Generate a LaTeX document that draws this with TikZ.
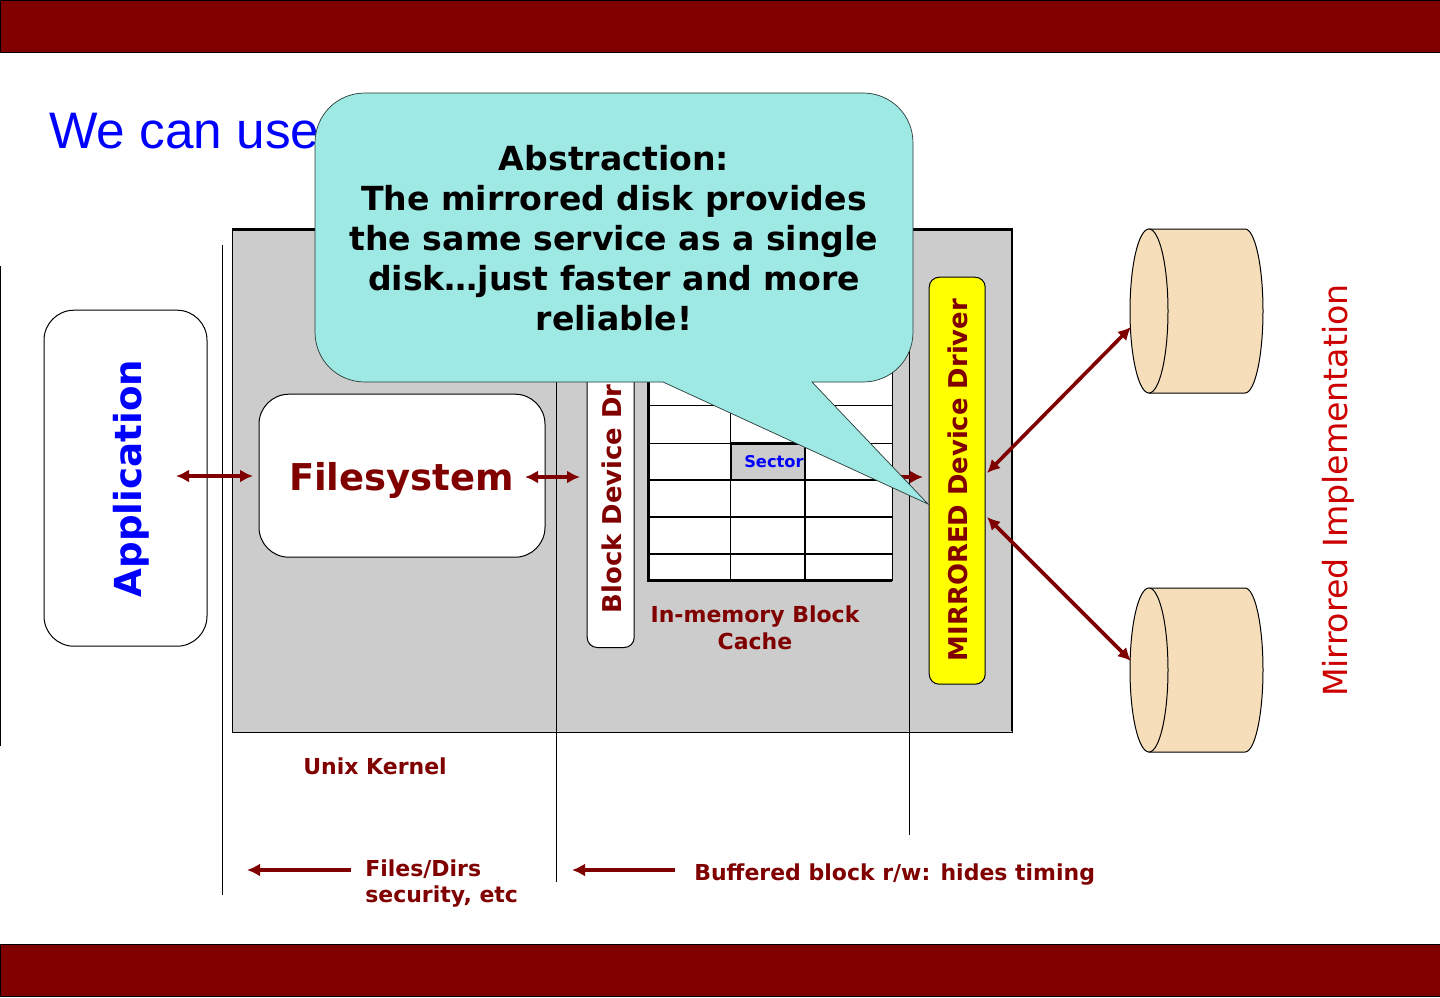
\documentclass[tikz,border=0pt]{standalone}
\usepackage{fontspec}
\setmainfont{DejaVu Sans}
\newfontfamily\titlefont{Liberation Sans}
\usetikzlibrary{arrows.meta}
\definecolor{brickred}{HTML}{800000}
\definecolor{brightred}{HTML}{CC0000}
\definecolor{panelgray}{HTML}{CCCCCC}
\definecolor{calloutfill}{HTML}{9FE9E4}
\definecolor{diskfill}{HTML}{F7DEBB}
\definecolor{driveryellow}{HTML}{FFFF00}
\definecolor{puretitle}{HTML}{0000FF}
\def\pxu{0.75pt}
\tikzset{
  bar/.style={draw=black,fill=brickred,line width=1*\pxu,inner sep=0pt,minimum width=1440*\pxu,minimum height=52*\pxu},
  roundbox/.style={draw=black,fill=white,line width=1*\pxu,inner sep=0pt,rounded corners=30*\pxu},
  link/.style={draw=brickred,line width=3.6*\pxu,{Latex[length=13*\pxu,width=13*\pxu]}-{Latex[length=13*\pxu,width=13*\pxu]}},
  onearrow/.style={draw=brickred,line width=3.6*\pxu,-{Latex[length=13*\pxu,width=13*\pxu]}},
  rule/.style={draw=black,line width=1*\pxu},
  gridline/.style={draw=black,line width=1.8*\pxu},
  label/.style={text=brickred,font=\bfseries\fontsize{16.5}{19.7}\selectfont,inner sep=0pt},
}
\begin{document}
\begin{tikzpicture}[x=0.75pt,y=-0.75pt]
\useasboundingbox (0,0) rectangle (1440,997);
\fill[white] (0,0) rectangle (1440,997);
% bars
\node[bar,anchor=north west] (topbar) at (0,0) {};
\node[bar,anchor=north west] (bottombar) at (0,944) {};
% title
\node[anchor=base west,inner sep=0pt,text=puretitle,font=\titlefont\fontsize{38.5}{44}\selectfont] (title) at (49,148) {We can use};
% kernel panel
\node[draw=black,fill=panelgray,line width=1*\pxu,anchor=north west,inner sep=0pt,minimum width=780*\pxu,minimum height=502*\pxu] (kernel) at (232,229.5) {};
\draw[black,line width=2.4*\pxu] (232,229.5) -- (1012,229.5) -- (1012,731);
% vertical rules
\coordinate (r1a) at (222,245); \coordinate (r1b) at (222,895);
\coordinate (r2a) at (556,300); \coordinate (r2b) at (556,882);
\coordinate (r3a) at (909,300); \coordinate (r3b) at (909,835);
\coordinate (r0a) at (0.5,266); \coordinate (r0b) at (0.5,746);
\draw[rule] (r0a) -- (r0b);
\draw[rule] (r1a) -- (r1b);
\draw[rule] (r2a) -- (r2b);
\draw[rule] (r3a) -- (r3b);
% application
\node[roundbox,anchor=north west,minimum width=163*\pxu,minimum height=336*\pxu] (app) at (43.5,309.7) {};
\node[rotate=90,text=puretitle,inner sep=0pt,font=\bfseries\fontsize{27.9}{32}\selectfont] (apptext) at (131,478.5) {Application};
% filesystem
\node[roundbox,anchor=north west,minimum width=286*\pxu,minimum height=163*\pxu] (fs) at (258.5,393.7) {};
\node[text=brickred,inner sep=0pt,font=\bfseries\fontsize{27.7}{32}\selectfont] (fstext) at (401.5,480.5) {Filesystem};
% block device driver
\node[roundbox,rounded corners=10*\pxu,anchor=south west,minimum width=47*\pxu,minimum height=348*\pxu] (bdd) at (586.7,648) {};
\node[rotate=90,text=brickred,inner sep=0pt,anchor=west,font=\bfseries\fontsize{19.4}{23}\selectfont] (bddtext) at (611.5,613.5) {Block Device Driver};
% block cache grid
\fill[white] (648,330) rectangle (892,581);
\fill[panelgray] (731,443) rectangle (805,480);
\foreach \yy in {405,443}{\draw[rule] (648,\yy) -- (892,\yy);}
\foreach \yy in {480,517,554}{\draw[gridline] (648,\yy) -- (892,\yy);}
\draw[rule] (730,330) -- (730,581);
\draw[gridline] (805,330) -- (805,581);
\draw[line width=2.4*\pxu,black] (731,480) -- (731,443.5) -- (805,443.5) -- (805,480) -- cycle;
\draw[draw=black,line width=3*\pxu] (648.5,330) -- (648.5,580.5) -- (892,580.5);
\draw[rule] (892,330) -- (892,581);
\node[text=puretitle,inner sep=0pt,anchor=base west,font=\bfseries\fontsize{12.2}{14}\selectfont] (sector) at (744,467) {Sector};
% arrows inside
\coordinate (a1) at (176,476); \coordinate (a2) at (253,476);
\coordinate (a3) at (525,477); \coordinate (a4) at (580,477);
\coordinate (a5) at (885,477); \coordinate (a6) at (923,477);
\draw[link] (a1) -- (a2);
\draw[link] (a3) -- (a4);
\draw[onearrow] (a5) -- (a6);
% mirrored driver
\node[draw=black,fill=driveryellow,line width=1*\pxu,rounded corners=10*\pxu,anchor=north west,inner sep=0pt,minimum width=56*\pxu,minimum height=407*\pxu] (mirror) at (928.7,276.7) {};
\node[rotate=90,text=brickred,inner sep=0pt,font=\bfseries\fontsize{19.4}{23}\selectfont] (mirrortext) at (958,480) {MIRRORED Device Driver};
% disks
\foreach \nm/\top in {diskA/229,diskB/588}{
  \draw[fill=diskfill,draw=black,line width=1*\pxu] (1149,\top) -- (1245,\top)
     arc[start angle=90,end angle=-90,x radius=18*\pxu,y radius=82*\pxu] -- (1149,\top+164) -- cycle;
  \draw[fill=diskfill,draw=black,line width=1*\pxu] (1149,\top+82) ellipse [x radius=19*\pxu,y radius=82*\pxu];
}
\coordinate (m1) at (987,473); \coordinate (m2) at (987,517);
\coordinate (diskAend) at (1131,327); \coordinate (diskBend) at (1131,661);
\draw[link] (m1) -- (diskAend);
\draw[link] (m2) -- (diskBend);
% labels
\node[rotate=90,text=brightred,inner sep=0pt,font=\fontsize{24.9}{30}\selectfont] (mirrorimpl) at (1338,490.5) {Mirrored Implementation};
\node[label,align=center,anchor=base] (cache) at (755,649) {In-memory Block\\Cache};
\node[label,anchor=base west] (unix) at (303,774) {Unix Kernel};
\node[label,align=left,anchor=base west] (files) at (365,902.5) {Files/Dirs\\security, etc};
\node[label,anchor=base west] (buffered) at (694,880) {Buffered block r/w: hides timing};
\coordinate (b1) at (351,870); \coordinate (b2) at (247,870);
\coordinate (b3) at (675,870); \coordinate (b4) at (572,870);
\draw[onearrow] (b1) -- (b2);
\draw[onearrow] (b3) -- (b4);
% callout
\coordinate (tip) at (928,504);
\filldraw[fill=calloutfill,draw=black!75!calloutfill,line width=0.7*\pxu]
  (365,93) -- (863,93) .. controls (891,93) and (913,115) .. (913,143)
  -- (913,332) .. controls (913,360) and (891,382) .. (863,382)
  -- (812,382) -- (tip) -- (663,382) -- (365,382)
  .. controls (337,382) and (315,360) .. (315,332)
  -- (315,143) .. controls (315,115) and (337,93) .. (365,93) -- cycle;
\node[align=center,inner sep=0pt,font=\bfseries\fontsize{24.85}{30}\selectfont] (abstraction) at (614,238) {Abstraction:\\The mirrored disk provides\\the same service as a single\\disk…just faster and more\\reliable!};
\end{tikzpicture}
\end{document}
